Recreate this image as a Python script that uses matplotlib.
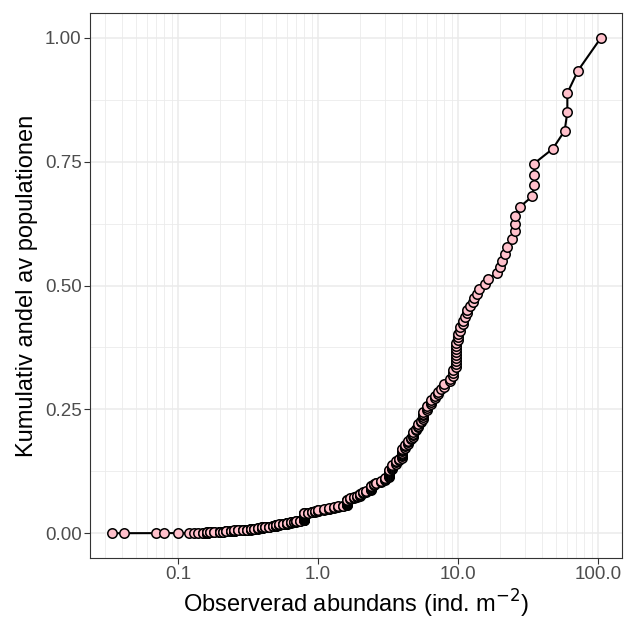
import numpy as np
import matplotlib
matplotlib.use("Agg")
import matplotlib.pyplot as plt
from matplotlib.ticker import FixedLocator, FixedFormatter, NullFormatter

plt.rcParams['font.family'] = ['Liberation Sans', 'DejaVu Sans']

# observed abundance per site (ind. m^-2) and how many sites share that value
abund = [0.034, 0.041, 0.07, 0.08, 0.10, 0.12, 0.13, 0.14, 0.15, 0.16, 0.17, 0.18,
         0.20, 0.21, 0.22, 0.24, 0.25, 0.27, 0.29, 0.31, 0.33, 0.35, 0.37, 0.40,
         0.42, 0.45, 0.48, 0.50, 0.53, 0.56, 0.60, 0.64, 0.67, 0.70, 0.74,
         0.80, 0.85, 0.90, 0.95, 1.00, 1.10, 1.20, 1.30, 1.40, 1.50,
         1.60, 1.70, 1.80, 1.90, 2.00, 2.10, 2.20, 2.40, 2.50, 2.60, 2.80, 3.00,
         3.20, 3.40, 3.60, 3.80, 4.00, 4.20, 4.40, 4.60, 4.80, 5.00, 5.20, 5.40,
         5.60, 6.00, 6.40, 6.80, 7.20, 7.60, 8.00, 8.80, 9.20, 9.60, 10.0, 10.4,
         10.8, 11.2, 11.6, 12.2, 12.8, 13.0, 13.6, 14.2, 15.5, 16.3, 19.0, 19.9,
         20.5, 21.6, 22.3, 24.4, 25.5, 27.7, 33.9, 34.9, 47.5, 57.8, 60.4,
         72.0, 105.0]
n_sites = [1, 1, 1, 1, 1, 1, 1, 1, 2, 10, 2, 2,
           8, 2, 3, 4, 8, 3, 3, 3, 6, 3, 3, 8,
           3, 3, 3, 7, 3, 3, 6, 3, 2, 3, 2,
           30, 2, 3, 2, 4, 2, 3, 2, 2, 2,
           12, 2, 2, 2, 4, 2, 2, 7, 2, 2, 2, 3,
           8, 5, 3, 2, 8, 3, 3, 2, 4, 2, 3, 2,
           5, 3, 3, 2, 2, 1, 2, 2, 3, 9, 3, 2,
           2, 1, 2, 1, 1, 1, 1, 1, 1, 1, 1, 1,
           1, 1, 1, 1, 3, 1, 1, 3, 1, 1, 2,
           1, 1]

x_breaks = [0.1, 1.0, 10.0, 100.0]
x_labels = ["0.1", "1.0", "10.0", "100.0"]
y_breaks = [0.0, 0.25, 0.5, 0.75, 1.0]
y_labels = ["0.00", "0.25", "0.50", "0.75", "1.00"]

# cumulative share of the total population, sites sorted by abundance
x = np.sort(np.repeat(abund, n_sites))
y = np.cumsum(x) / x.sum()

fig = plt.figure(figsize=(6.24, 6.20), dpi=100)
ax = fig.add_axes([90 / 624, 62 / 620, 532 / 624, 545 / 620])

ax.set_xscale('log')
ax.set_xlim(0.0235, 148.4)
ax.set_ylim(-0.05, 1.05)

# ggplot-style log grid: major at decades, minor at 2..9 of each decade
minor_x = [m * 10.0 ** d for d in range(-2, 3) for m in range(2, 10)]
ax.xaxis.set_major_locator(FixedLocator(x_breaks))
ax.xaxis.set_major_formatter(FixedFormatter(x_labels))
ax.xaxis.set_minor_locator(FixedLocator(minor_x))
ax.xaxis.set_minor_formatter(NullFormatter())
ax.yaxis.set_major_locator(FixedLocator(y_breaks))
ax.yaxis.set_major_formatter(FixedFormatter(y_labels))
ax.yaxis.set_minor_locator(FixedLocator([0.125, 0.375, 0.625, 0.875]))

ax.grid(True, which='major', color='#EBEBEB', lw=1.1, zorder=0)
ax.grid(True, which='minor', color='#EBEBEB', lw=0.6, zorder=0)
ax.set_axisbelow(True)

ax.tick_params(which='major', length=4, width=0.8, color='#333333',
               labelcolor='#4D4D4D', labelsize=13.5, pad=2)
ax.tick_params(which='minor', length=0)
for sp in ax.spines.values():
    sp.set_color('#333333')
    sp.set_linewidth(0.8)

ax.plot(x, y, color='black', lw=1.5, zorder=2)
ax.plot(x, y, ls='none', marker='o', ms=6.8, mfc='pink', mec='black', mew=1.1, zorder=3)

ax.set_xlabel(r'Observerad abundans (ind. m$^{-2}$)', fontsize=17, labelpad=3)
ax.set_ylabel('Kumulativ andel av populationen', fontsize=17, labelpad=5)

fig.savefig('out.png', dpi=100)
